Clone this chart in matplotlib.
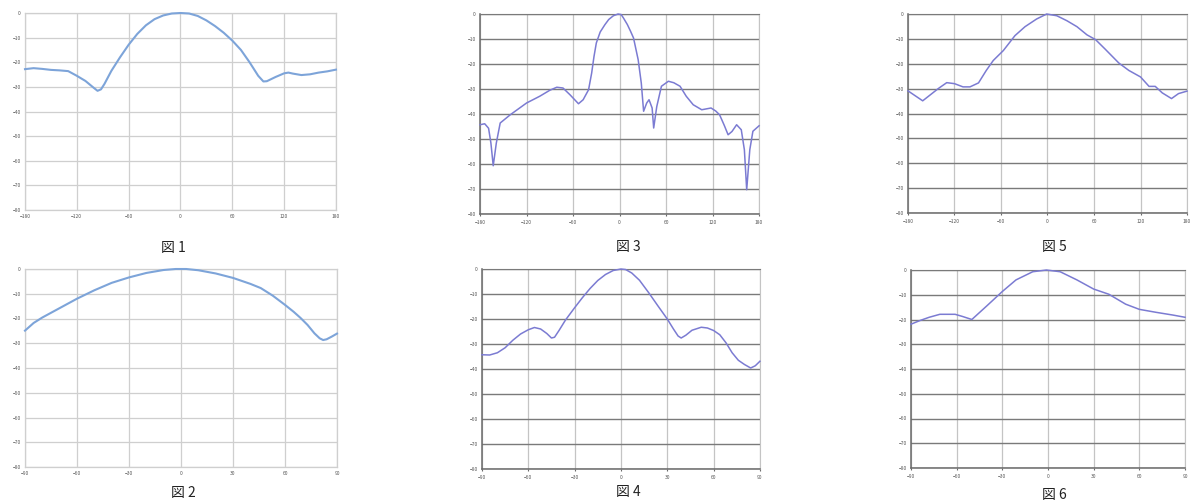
import matplotlib
matplotlib.use("Agg")
import matplotlib.pyplot as plt

plt.rcParams['font.family'] = ['Noto Sans CJK JP', 'DejaVu Sans']

# 図1 (-180..180)
fig1_x = [-180, -170, -160, -150, -140, -130, -120, -110, -100, -96, -92, -88, -80, -70, -60, -50, -40, -30, -20, -10, 0, 10, 20, 30, 40, 50, 60, 70, 80, 90, 96, 100, 110, 120, 125, 130, 140, 150, 160, 170, 180]
fig1_y = [-22.8, -22.4, -22.7, -23.1, -23.3, -23.6, -25.5, -27.6, -30.5, -31.6, -31.0, -28.8, -23.5, -18, -12.9, -8.5, -5, -2.5, -1, -0.2, 0, -0.2, -1.2, -3, -5.3, -8, -11.2, -15, -20, -25.5, -27.8, -27.7, -26, -24.5, -24.2, -24.6, -25.2, -24.9, -24.2, -23.7, -23]

# 図2 (-90..90)
fig2_x = [-90, -85, -80, -70, -60, -50, -40, -30, -20, -10, -3, 3, 10, 20, 30, 40, 46, 53, 60, 65, 69, 73, 77, 80, 82, 84, 87, 90]
fig2_y = [-24.9, -21.8, -19.6, -15.8, -12, -8.6, -5.6, -3.4, -1.6, -0.4, 0, 0, -0.5, -1.8, -3.6, -6, -7.7, -10.8, -14.5, -17.3, -19.8, -22.6, -26, -28, -28.7, -28.4, -27.3, -26.1]

# 図3 (-180..180)
fig3_x = [-180, -174, -169, -166, -163, -159, -154, -141, -120, -103, -90, -81, -73, -64, -53, -47, -40, -36, -33, -30, -25, -19, -14, -8, -2, 2, 5, 10, 14, 18, 24, 28, 31, 35, 38, 42, 44, 48, 54, 63, 70, 78, 86, 95, 106, 118, 124, 129, 135, 140, 145, 151, 157, 161, 164, 168, 172, 180]
fig3_y = [-44.3, -43.9, -45.7, -51.6, -60.7, -51.6, -43.6, -40.3, -35.6, -32.9, -30.5, -29.3, -29.6, -32.3, -35.9, -34.3, -30.3, -23.6, -17, -11.6, -7.2, -4.3, -2.2, -0.7, 0, -0.2, -1.6, -4.2, -6.8, -9.6, -18.3, -27.6, -38.9, -35.6, -34.3, -37.6, -45.6, -37, -28.9, -26.9, -27.5, -28.9, -32.9, -36.3, -38.3, -37.6, -38.8, -40.3, -44.5, -48.3, -47, -44.3, -46.3, -54.3, -70.3, -54.3, -46.9, -44.7]

# 図4 (-90..90)
fig4_x = [-90, -85, -80, -75, -70, -65, -60, -56, -52, -48, -45, -43, -40, -36, -30, -25, -20, -15, -10, -5, 0, 3, 7, 12, 18, 24, 30, 34, 37, 39, 42, 46, 52, 56, 60, 64, 68, 72, 76, 80, 84, 87, 90]
fig4_y = [-34.3, -34.4, -33.5, -31.5, -28.5, -26, -24.3, -23.4, -24, -25.8, -27.6, -27.3, -24.5, -20.5, -15.5, -11.5, -7.8, -4.6, -2.2, -0.6, 0, -0.2, -1.6, -4.5, -9.5, -14.8, -20, -24, -26.8, -27.6, -26.5, -24.5, -23.3, -23.6, -24.6, -26.3, -29.5, -33.5, -36.5, -38.2, -39.6, -38.7, -36.9]

# 図5 (-180..180)
fig5_x = [-180, -161, -141, -130, -120, -109, -100, -89, -79, -70, -57, -42, -29, -14, -1, 12, 25, 38, 51, 62, 74, 92, 105, 120, 131, 139, 148, 160, 169, 180]
fig5_y = [-30.9, -34.9, -30, -27.6, -28, -29.3, -29.3, -27.7, -22.7, -18.7, -14.7, -8.7, -5.1, -2, 0, -0.7, -2.7, -5.1, -8.4, -10.3, -14, -19.7, -22.7, -25.3, -29.1, -29.1, -31.7, -34, -32, -31]

# 図6 (-90..90)
fig6_x = [-90, -84, -78, -71, -61, -56, -50, -40, -30, -21, -10, -1, 8, 19, 30, 40, 51, 60, 71, 82, 90]
fig6_y = [-21.9, -20.4, -19.1, -17.9, -17.9, -18.8, -20, -14.4, -8.7, -4, -0.7, 0, -0.7, -4, -7.7, -9.8, -13.8, -15.9, -17.1, -18.2, -19.1]

ticks_wide = [-180, -120, -60, 0, 60, 120, 180]
ticks_narrow = [-90, -60, -30, 0, 30, 60, 90]
y_ticks = [0, -10, -20, -30, -40, -50, -60, -70, -80]

panels = [
    # (x, y, xticks, rect, style, caption, caption position)
    (fig1_x, fig1_y, ticks_wide, [0.021, 0.580, 0.2613, 0.394], 'soft', '図 1', (0.146, 0.504)),
    (fig3_x, fig3_y, ticks_wide, [0.4034, 0.572, 0.2345, 0.400], 'hard', '図 3', (0.528, 0.506)),
    (fig5_x, fig5_y, ticks_wide, [0.763, 0.574, 0.2345, 0.398], 'hard', '図 5', (0.886, 0.506)),
    (fig2_x, fig2_y, ticks_narrow, [0.021, 0.066, 0.2622, 0.396], 'soft', '図 2', (0.154, 0.014)),
    (fig4_x, fig4_y, ticks_narrow, [0.405, 0.062, 0.2336, 0.400], 'hard', '図 4', (0.528, 0.016)),
    (fig6_x, fig6_y, ticks_narrow, [0.7655, 0.064, 0.2303, 0.396], 'hard', '図 6', (0.886, 0.010)),
]

fig = plt.figure(figsize=(11.9, 5), dpi=100)

for x, y, xt, rect, style, cap, cpos in panels:
    ax = fig.add_axes(rect)
    lim = xt[-1]
    ax.set_xlim(-lim, lim)
    ax.set_ylim(-80, 0)
    ax.set_xticks(xt)
    ax.set_yticks(y_ticks)
    ax.tick_params(labelsize=3.5, labelcolor='#555555', length=0, pad=3)
    if style == 'soft':
        ax.plot(x, y, color='#7da4d9', lw=1.5, clip_on=False, zorder=3,
                solid_joinstyle='round')
        ax.grid(True, color='#cfcfcf', lw=0.9)
        for s in ax.spines.values():
            s.set_color('#cfcfcf')
            s.set_linewidth(0.9)
    else:
        ax.plot(x, y, color='#7b7bd2', lw=1.1, clip_on=False, zorder=3,
                solid_joinstyle='round')
        ax.xaxis.grid(True, color='#c4c4c4', lw=0.9)
        ax.yaxis.grid(True, color='#7a7a7a', lw=1.0)
        ax.spines['top'].set_color('#7a7a7a')
        ax.spines['right'].set_color('#c4c4c4')
        ax.spines['left'].set_color('#6a6a6a')
        ax.spines['bottom'].set_color('#6a6a6a')
        ax.spines['left'].set_linewidth(1.1)
        ax.spines['bottom'].set_linewidth(1.1)
        ax.tick_params(axis='x', length=1.5, color='#6a6a6a')
    ax.set_axisbelow(True)
    fig.text(cpos[0], cpos[1], cap, ha='center', va='center', fontsize=10, color='#222222')

fig.savefig('out.png', dpi=100, facecolor='white')
